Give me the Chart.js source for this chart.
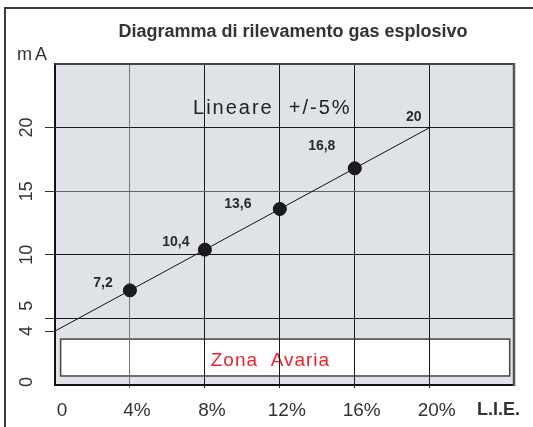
<!DOCTYPE html>
<html lang="it">
<head>
<meta charset="UTF-8">
<title>Diagramma di rilevamento gas esplosivo</title>
<script src="https://cdn.jsdelivr.net/npm/chart.js@4.4.0/dist/chart.umd.min.js"></script>
<style>
  html, body { margin: 0; padding: 0; background: #fff; }
  canvas { display: block; }
</style>
</head>
<body>
<canvas id="gas-canvas" width="533" height="427"></canvas>
<script>
var lie = [0, 4, 8, 12, 16, 20];            // % L.I.E.
var mA = [4, 7.2, 10.4, 13.6, 16.8, 20];    // uscita in mA
var xTicks = [0, 4, 8, 12, 16, 20];
var xTickLabels = ['0', '4%', '8%', '12%', '16%', '20%'];
var yTicks = [0, 4, 5, 10, 15, 20];
var yTickLabels = ['0', '4', '5', '10', '15', '20'];
var unitLabel = 'L.I.E.';
var unitPos = 23.3;
// zona avaria (mA sotto 4)
var faultX = [0.3, 24.27];
var faultY = [0.47, 3.37];

// dove mettere le etichette dei punti (pixel rispetto al punto)
var labelShift = [null, [-27, -7], [-29, -8], [-42, -5], [-33, -22], [-16, -10]];

var FONT = '"Liberation Sans", Arial, Helvetica, sans-serif';

function fmt(v) {
    return Number.isInteger(v) ? String(v) : v.toFixed(1).replace('.', ',');
}

var decor = {
    id: 'decor',
    beforeDraw: function(chart) {
        var c = chart.ctx, a = chart.chartArea;
        var xs = chart.scales.x, ys = chart.scales.y;
        c.save();
        c.fillStyle = '#dfe3e7';
        c.fillRect(a.left, a.top, a.right - a.left, a.bottom - a.top);

        var x0 = xs.getPixelForValue(faultX[0]), x1 = xs.getPixelForValue(faultX[1]);
        var y0 = ys.getPixelForValue(faultY[1]), y1 = ys.getPixelForValue(faultY[0]);
        c.fillStyle = '#fff';
        c.fillRect(x0, y0, x1 - x0, y1 - y0);
        c.strokeStyle = '#444';
        c.lineWidth = 1.5;
        c.strokeRect(x0, y0, x1 - x0, y1 - y0);

        c.textAlign = 'center';
        c.textBaseline = 'middle';
        c.fillStyle = '#e8232e';
        c.font = '19px ' + FONT;
        c.letterSpacing = '1px';
        c.fillText('Zona  Avaria', xs.getPixelForValue(11.5), ys.getPixelForValue(1.7));

        c.fillStyle = '#222';
        c.font = '20px ' + FONT;
        c.letterSpacing = '2px';
        c.fillText('Lineare  +/-5%', xs.getPixelForValue(11.6), ys.getPixelForValue(21.5));
        c.restore();
    },
    afterDatasetsDraw: function(chart) {
        var c = chart.ctx;
        var pts = chart.getDatasetMeta(0).data;
        c.save();
        c.fillStyle = '#2a2a2a';
        c.font = 'bold 14px ' + FONT;
        c.textAlign = 'center';
        c.textBaseline = 'middle';
        for (var i = 1; i < pts.length; i++) {
            c.fillText(fmt(mA[i]), pts[i].x + labelShift[i][0], pts[i].y + labelShift[i][1]);
        }
        c.restore();
    },
    afterDraw: function(chart) {
        var c = chart.ctx, a = chart.chartArea;
        c.save();
        // bordo alto e destro del grafico
        c.strokeStyle = '#444';
        c.lineWidth = 2;
        c.beginPath();
        c.moveTo(a.left, a.top);
        c.lineTo(a.right, a.top);
        c.stroke();
        c.strokeStyle = '#555';
        c.lineWidth = 2.5;
        c.beginPath();
        c.moveTo(a.right, a.top - 1);
        c.lineTo(a.right, a.bottom + 1);
        c.stroke();

        // cornice esterna
        c.strokeStyle = '#3a3a3a';
        c.lineWidth = 2;
        c.strokeRect(5, 8, 600, 600);

        c.fillStyle = '#333';
        c.textBaseline = 'middle';
        c.textAlign = 'center';
        c.font = 'bold 18px ' + FONT;
        c.fillText('Diagramma di rilevamento gas esplosivo', 293, 32);

        c.textAlign = 'left';
        c.font = '18px ' + FONT;
        c.letterSpacing = '3px';
        c.fillText('mA', 17, 55);
        c.restore();
    }
};

var points = lie.map(function(v, i) { return {x: v, y: mA[i]}; });

var ctx = document.getElementById('gas-canvas').getContext('2d');
new Chart(ctx, {
    type: 'line',
    data: {
        datasets: [{
            data: points,
            borderColor: '#111',
            borderWidth: 1,
            pointBackgroundColor: '#1b1b1b',
            pointBorderColor: '#111',
            pointBorderWidth: 1,
            pointRadius: function(c) {
                return (c.dataIndex === 0 || c.dataIndex === lie.length - 1) ? 0 : 6.5;
            },
            tension: 0,
            fill: false
        }]
    },
    options: {
        responsive: false,
        animation: false,
        devicePixelRatio: 1,
        layout: { padding: { left: 5, top: 64, right: 19, bottom: 0 } },
        plugins: {
            legend: { display: false },
            tooltip: { enabled: false },
            title: { display: false }
        },
        scales: {
            x: {
                type: 'linear',
                min: 0,
                max: 24.5,
                afterBuildTicks: function(s) {
                    s.ticks = xTicks.concat([unitPos]).map(function(v) { return {value: v}; });
                },
                afterFit: function(s) { s.height = 42; },
                border: { display: true, color: '#111', width: 2 },
                grid: {
                    color: function(c) {
                        var v = c.tick ? c.tick.value : null;
                        if (v === 0 || v === unitPos) return 'rgba(0,0,0,0)';
                        return v === 4 ? '#777' : '#1a1a1a';
                    },
                    lineWidth: 1,
                    tickLength: 3
                },
                ticks: {
                    autoSkip: false,
                    minRotation: 0,
                    maxRotation: 0,
                    labelOffset: 7,
                    padding: 11,
                    color: '#333',
                    font: function(c) {
                        if (c.index === xTicks.length) return { family: FONT, size: 18, weight: 'bold' };
                        return { family: FONT, size: 19 };
                    },
                    callback: function(v, i) {
                        return i < xTickLabels.length ? xTickLabels[i] : unitLabel;
                    }
                }
            },
            y: {
                type: 'linear',
                min: -0.24,
                max: 25,
                afterBuildTicks: function(s) {
                    s.ticks = yTicks.map(function(v) { return {value: v}; });
                },
                afterFit: function(s) { s.width = 50; },
                border: { display: true, color: '#111', width: 2 },
                grid: {
                    color: function(c) {
                        var v = c.tick ? c.tick.value : null;
                        if (v === 0 || v === 4) return 'rgba(0,0,0,0)';
                        return v === 15 ? '#666' : '#1a1a1a';
                    },
                    tickColor: function(c) {
                        return (c.tick && c.tick.value === 0) ? 'rgba(0,0,0,0)' : '#333';
                    },
                    lineWidth: 1,
                    tickLength: 10
                },
                ticks: {
                    autoSkip: false,
                    minRotation: 90,
                    maxRotation: 90,
                    crossAlign: 'center',
                    padding: 0.5,
                    color: '#333',
                    font: { family: FONT, size: 18 },
                    callback: function(v, i) {
                        // il 5 sta un po' piu' in alto per non toccare il 4
                        return v === 5 ? '     ' + yTickLabels[i] : yTickLabels[i];
                    }
                }
            }
        }
    },
    plugins: [decor]
});
</script>
</body>
</html>
